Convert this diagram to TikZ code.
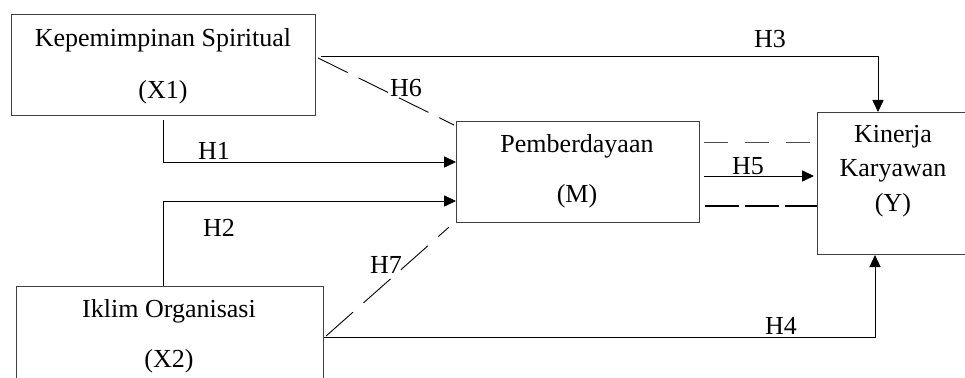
\documentclass[tikz,border=0pt]{standalone}
\usepackage{fontspec}
\setmainfont{Liberation Serif}
\usetikzlibrary{calc,arrows.meta}
\begin{document}
\begin{tikzpicture}[x=0.5pt,y=-0.5pt,
  box/.style={draw=black!75,line width=0.55pt,inner sep=0pt,anchor=north west},
  txt/.style={font=\fontsize{13}{15}\selectfont,inner sep=0pt,anchor=base},
  conn/.style={line width=0.45pt,black},
  arr/.style={conn,-{Triangle[length=6pt,width=5.6pt]}},
  dsh/.style={conn,dash pattern=on 16pt off 6pt},
]
\useasboundingbox (0,0) rectangle (965,378);
\clip (0,0) rectangle (965,378);
% boxes
\node[box,minimum width=152pt,minimum height=50.5pt] (x1) at (11,14) {};
\node[box,minimum width=121.5pt,minimum height=50.5pt] (m) at (456,121) {};
\node[box,minimum width=100pt,minimum height=71pt] (y) at (817,112) {};
\node[box,minimum width=153.5pt,minimum height=60pt] (x2) at (16,286) {};
% box texts
\node[txt] (t1a) at (163,47) {Kepemimpinan Spiritual};
\node[txt] (t1b) at (163,99) {(X1)};
\node[txt] (tma) at (577,153) {Pemberdayaan};
\node[txt] (tmb) at (577,203) {(M)};
\node[txt] (tya) at (893,143) {Kinerja};
\node[txt] (tyb) at (893,177) {Karyawan};
\node[txt] (tyc) at (893,212) {(Y)};
\node[txt] (t2a) at (169,318) {Iklim Organisasi};
\node[txt] (t2b) at (169,368) {(X2)};
% hypothesis labels
\node[txt] (h1) at (214,160) {H1};
\node[txt] (h2) at (219,237) {H2};
\node[txt] (h3) at (770,48) {H3};
\node[txt] (h4) at (781,335) {H4};
\node[txt] (h5) at (748,175) {H5};
\node[txt] (h6) at (406,97) {H6};
\node[txt] (h7) at (386,274) {H7};
% H1
\coordinate (h1s) at ($(x1.south)+(0,4)$);
\draw[arr] (h1s) |- ($(m.north west)+(0,41)$);
% H2
\coordinate (h2s) at ($(x2.north west)+(147,0)$);
\draw[arr] (h2s) |- ($(m.north west)+(0,80)$);
% H3
\coordinate (h3s) at ($(x1.north east)+(5,42)$);
\draw[arr] (h3s) -| ($(y.north west)+(61,0)$);
% H4
\coordinate (h4s) at ($(x2.north east)+(0,51)$);
\draw[arr] (h4s) -| ($(y.south west)+(58,0)$);
% H5
\draw[arr] ($(m.north east)+(4,55)$) -- ($(y.north west)+(-3,64)$);
\draw[conn,black!70,dash pattern=on 12pt off 8.5pt] ($(m.north east)+(4,21)$) -- ($(y.north west)+(-3,30)$);
\draw[conn,line width=0.75pt,dash pattern=on 17pt off 3pt] ($(m.north east)+(5,85)$) -- ($(y.north west)+(0,94)$);
% H6
\draw[dsh,dash pattern=on 16.5pt off 6pt] ($(x1.north east)+(2,44)$) -- ($(m.north west)+(-2,4)$);
% H7
\draw[dsh,dash pattern=on 18pt off 7pt] ($(x2.north east)+(2,50)$) -- ($(m.south west)+(-7,4)$);
\end{tikzpicture}
\end{document}
